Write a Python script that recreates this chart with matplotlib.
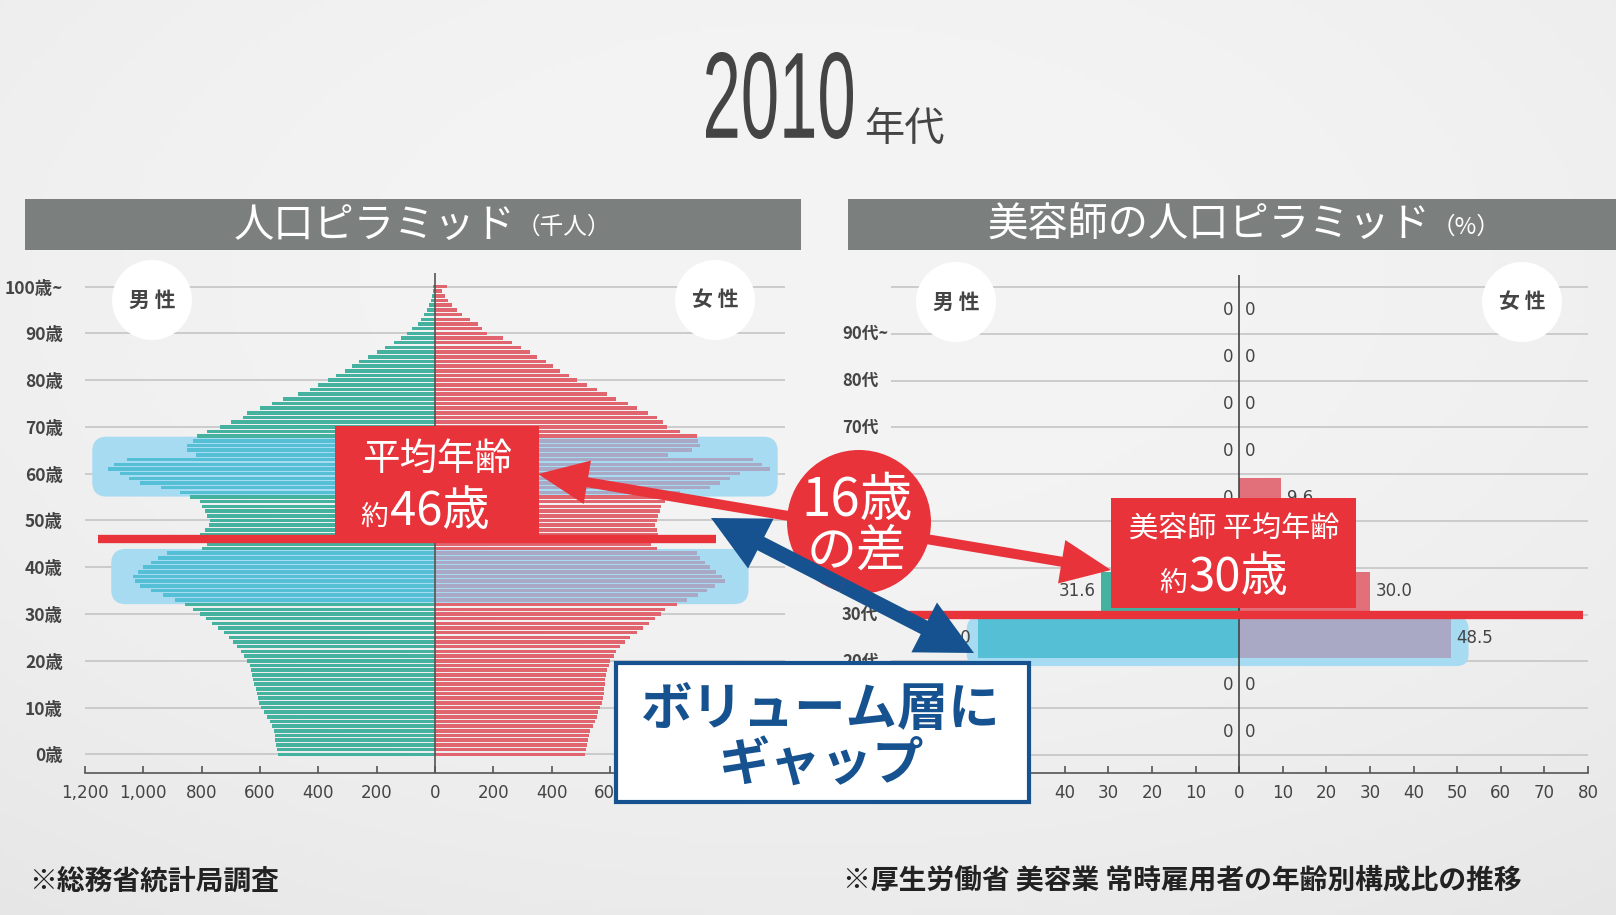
import numpy as np
import matplotlib.pyplot as plt
from matplotlib.patches import Rectangle, Circle, FancyBboxPatch, FancyArrow, PathPatch
from matplotlib.textpath import TextPath
from matplotlib.font_manager import FontProperties
from matplotlib.transforms import Affine2D

plt.rcParams['font.family'] = ['Noto Sans CJK JP', 'DejaVu Sans']

# ---------------------------------------------------------------
# data
# ---------------------------------------------------------------
# population pyramid 2010, ages 0..100+ (thousand people)
ages = np.arange(0, 101)
male_pop = [
    537, 541, 545, 549, 549, 552, 560, 566, 575, 585,
    598, 603, 608, 611, 614, 620, 623, 626, 630, 634,
    645, 655, 665, 680, 691, 705, 725, 745, 765, 785,
    806, 830, 857, 890, 931, 975, 1011, 1030, 1034, 1020,
    1000, 975, 950, 920, 800, 780, 790, 806, 789, 775,
    771, 783, 790, 800, 806, 840, 874, 940, 1011, 1050,
    1080, 1120, 1100, 1057, 820, 850, 851, 830, 817, 780,
    737, 700, 660, 645, 600, 560, 520, 470, 430, 400,
    366, 340, 310, 285, 260, 230, 200, 170, 140, 115,
    95, 78, 60, 48, 38, 28, 20, 15, 10, 7, 6,
]
female_pop = [
    514, 517, 520, 524, 528, 531, 540, 548, 554, 560,
    566, 571, 575, 578, 580, 583, 583, 585, 590, 595,
    600, 612, 622, 634, 650, 670, 691, 712, 735, 755,
    775, 790, 830, 863, 900, 931, 960, 994, 985, 965,
    943, 925, 910, 897, 760, 740, 750, 765, 760, 755,
    760, 765, 770, 775, 790, 800, 840, 943, 977, 1010,
    1046, 1148, 1120, 1091, 800, 880, 910, 900, 897, 840,
    794, 780, 760, 730, 691, 660, 620, 589, 555, 520,
    486, 460, 430, 406, 380, 350, 326, 295, 265, 234,
    177, 160, 148, 120, 91, 75, 58, 45, 33, 25, 40,
]
pop_ticks = np.arange(0, 101, 10)
pop_tick_labels = [f"{a}歳" for a in pop_ticks[:-1]] + ["100歳~"]
pop_highlights = [(33, 43), (56, 67)]      # volume layers (ages)
pop_mean_age = 46

# beautician pyramid (%), by decade
beauty_decades = [0, 10, 20, 30, 40, 50, 60, 70, 80, 90]
beauty_male = [0, 0, 60.0, 31.6, 8.4, 0, 0, 0, 0, 0]
beauty_female = [0, 0, 48.5, 30.0, 11.9, 9.6, 0, 0, 0, 0]
# decade labels that are not hidden behind the callouts
beauty_label_decades = [20, 30, 70, 80, 90]
beauty_labels = ["20代", "30代", "70代", "80代", "90代~"]
beauty_highlight = 20
beauty_mean_age = 30

# ---------------------------------------------------------------
# colours
# ---------------------------------------------------------------
MALE = '#45b29f'
MALE_HL = '#55bfd6'
FEMALE = '#e0656f'
FEMALE_HL = '#a9a8c5'
HL_BOX = '#a7dbf2'
RED = '#e8333b'
BLUE = '#16528f'
GRID = '#c5c5c5'
INK = '#444444'

W, H = 1616, 915


def frac(x0, y0, x1, y1):
    return [x0 / W, 1 - y1 / H, (x1 - x0) / W, (y1 - y0) / H]


fig = plt.figure(figsize=(W / 100, H / 100), dpi=100)

# background
bg = fig.add_axes([0, 0, 1, 1])
yy, xx = np.mgrid[0:1:200j, 0:1:300j]
shade = 0.955 - 0.075 * ((xx - 0.5) ** 2 + (yy - 0.3) ** 2)
bg.imshow(shade, cmap='gray', vmin=0, vmax=1, extent=(0, 1, 0, 1), aspect='auto')
bg.set_xlim(0, 1)
bg.set_ylim(0, 1)
bg.axis('off')

# ---------------------------------------------------------------
# left: population pyramid
# ---------------------------------------------------------------
axL = fig.add_axes(frac(85, 273, 785, 773))
axL.patch.set_alpha(0)
axL.set_xlim(-1200, 1200)
axL.set_ylim(-4.0, 102.9)
axL.hlines(pop_ticks, -1200, 1200, color=GRID, lw=1.2, zorder=0)

hl_box_x = {(33, 43): (-1110, 1075), (56, 67): (-1175, 1175)}
for a0, a1 in pop_highlights:
    x0, x1 = hl_box_x[(a0, a1)]
    axL.add_patch(FancyBboxPatch((x0, a0 - 0.9), x1 - x0, a1 - a0 + 1.8,
                                 boxstyle='round,pad=0,rounding_size=50',
                                 mutation_aspect=0.0628, fc=HL_BOX, ec='none', zorder=1))


def in_hl(a):
    return any(a0 <= a <= a1 for a0, a1 in pop_highlights)


mcols = [MALE_HL if in_hl(a) else MALE for a in ages]
fcols = [FEMALE_HL if in_hl(a) else FEMALE for a in ages]
axL.barh(ages, -np.array(male_pop), height=0.76, color=mcols, zorder=2)
axL.barh(ages, female_pop, height=0.76, color=fcols, zorder=2)
axL.plot([0, 0], [-4, 102.8], color='#555', lw=1.2, zorder=3)
axL.plot([-1155, 965], [pop_mean_age, pop_mean_age], color=RED, lw=6,
         solid_capstyle='butt', zorder=4)

for s in ['top', 'left', 'right']:
    axL.spines[s].set_visible(False)
axL.spines['bottom'].set_color('#555')
axL.spines['bottom'].set_linewidth(1.2)
xt = np.arange(-1200, 1201, 200)
axL.set_xticks(xt)
axL.set_xticklabels([f"{abs(v):,}" for v in xt], family='DejaVu Sans')
axL.tick_params(axis='x', direction='in', length=5, width=1.2, color='#555',
                labelsize=12, labelcolor=INK, pad=8)
axL.set_yticks(pop_ticks)
axL.set_yticklabels(pop_tick_labels, fontweight='bold')
axL.tick_params(axis='y', length=0, pad=16, labelsize=12.5, labelcolor=INK)

# ---------------------------------------------------------------
# right: beautician pyramid
# ---------------------------------------------------------------
axR = fig.add_axes(frac(890.5, 275, 1588, 773))
axR.patch.set_alpha(0)
axR.set_xlim(-80, 80)
axR.set_ylim(-0.385, 10.256)
axR.hlines(np.arange(0, 11), -80, 80, color=GRID, lw=1.2, zorder=0)

rows = np.array(beauty_decades) / 10 + 0.5
hk = beauty_highlight / 10
axR.add_patch(FancyBboxPatch((-62.5, hk - 0.1), 115.1, 1.05,
                             boxstyle='round,pad=0,rounding_size=2.75',
                             mutation_aspect=0.0932, fc=HL_BOX, ec='none', zorder=1))
mc = [MALE_HL if d == beauty_highlight else MALE for d in beauty_decades]
fc = [FEMALE_HL if d == beauty_highlight else '#e2707b' for d in beauty_decades]
axR.barh(rows, -np.array(beauty_male), height=0.84, color=mc, zorder=2)
axR.barh(rows, beauty_female, height=0.84, color=fc, zorder=2)
for k, m, f in zip(rows, beauty_male, beauty_female):
    axR.text(-m - 1.3, k, "0" if m == 0 else f"{m:.1f}", ha='right', va='center',
             fontsize=12, color=INK, family='DejaVu Sans', zorder=3)
    axR.text(f + 1.3, k, "0" if f == 0 else f"{f:.1f}", ha='left', va='center',
             fontsize=12, color=INK, family='DejaVu Sans', zorder=3)
axR.plot([0, 0], [-0.385, 10.25], color='#444', lw=1.2, zorder=3)
axR.plot([-78.5, 78.9], [beauty_mean_age / 10, beauty_mean_age / 10], color=RED, lw=6,
         solid_capstyle='butt', zorder=4)

ytr = axR.get_yaxis_transform()
for d, lab in zip(beauty_label_decades, beauty_labels):
    axR.text(-0.0695, d / 10, lab, transform=ytr, ha='left', va='center',
             fontsize=12, fontweight='bold', color=INK)

for s in ['top', 'left', 'right']:
    axR.spines[s].set_visible(False)
axR.spines['bottom'].set_color('#555')
axR.spines['bottom'].set_linewidth(1.2)
xt2 = np.arange(-80, 81, 10)
axR.set_xticks(xt2)
axR.set_xticklabels([str(abs(v)) for v in xt2], family='DejaVu Sans')
axR.tick_params(axis='x', direction='in', length=5, width=1.2, color='#555',
                labelsize=12, labelcolor=INK, pad=8)
axR.set_yticks([])

# ---------------------------------------------------------------
# overlay: titles, headers, callouts
# ---------------------------------------------------------------
ov = fig.add_axes([0, 0, 1, 1])
ov.set_xlim(0, W)
ov.set_ylim(H, 0)
ov.axis('off')

# big condensed "2010"
fp = FontProperties(family='Liberation Sans')
tp = TextPath((0, 0), "2010", size=100, prop=fp)
bb = tp.get_extents()
tr = Affine2D().translate(-bb.x0, -bb.y0).scale(147 / bb.width, -87 / bb.height).translate(706, 139)
ov.add_patch(PathPatch(tr.transform_path(tp), fc=INK, ec='none'))
ov.text(864, 141, "年代", fontsize=29, color=INK, ha='left', va='baseline')

# header bars
ov.add_patch(Rectangle((25, 199), 776, 51, fc='#7b807e', ec='none'))
ov.add_patch(Rectangle((848, 199), 768, 51, fc='#7b807e', ec='none'))
ov.text(515, 225, "人口ピラミッド", fontsize=29, color='white', ha='right', va='center')
ov.text(517, 227, "（千人）", fontsize=17, color='white', ha='left', va='center')
ov.text(1430, 225, "美容師の人口ピラミッド", fontsize=29, color='white', ha='right', va='center')
ov.text(1432, 227, "（%）", fontsize=17, color='white', ha='left', va='center')

# gender badges
for (cx, cy), lab in zip([(152, 300), (715, 300), (956, 302), (1522, 302)],
                         ["男 性", "女 性", "男 性", "女 性"]):
    ov.add_patch(Circle((cx, cy), 40, fc='white', ec='none'))
    ov.text(cx, cy, lab, fontsize=15, fontweight='bold', color=INK, ha='center', va='center')


def double_arrow(p0, p1, width, head_w, head_len, color):
    mx, my = (p0[0] + p1[0]) / 2, (p0[1] + p1[1]) / 2
    for px, py in (p0, p1):
        ov.add_patch(FancyArrow(mx, my, px - mx, py - my, width=width, head_width=head_w,
                                head_length=head_len, length_includes_head=True,
                                fc=color, ec='none'))


# red arrow between the two mean-age boxes
double_arrow((538, 474), (1111, 570), 10, 44, 50, RED)

# mean-age boxes
ov.add_patch(Rectangle((335, 426), 204, 111, fc=RED, ec='none'))
ov.text(437, 470, "平均年齢", fontsize=27, color='white', ha='center', va='baseline')
ov.text(388, 525, "約", fontsize=20, color='white', ha='right', va='baseline')
ov.text(390, 525, "46歳", fontsize=34, color='white', ha='left', va='baseline')

ov.add_patch(Rectangle((1111, 498), 245, 110, fc=RED, ec='none'))
ov.text(1234, 538, "美容師 平均年齢", fontsize=21, color='white', ha='center', va='baseline')
ov.text(1187, 591, "約", fontsize=20, color='white', ha='right', va='baseline')
ov.text(1189, 591, "30歳", fontsize=34, color='white', ha='left', va='baseline')

# gap circle
ov.add_patch(Circle((859, 522), 72, fc=RED, ec='none'))
ov.text(857, 516, "16歳", fontsize=38, color='white', ha='center', va='baseline')
ov.text(857, 566, "の差", fontsize=36, color='white', ha='center', va='baseline')

# blue arrow between volume layers
double_arrow((711, 518), (974, 653), 15, 56, 56, BLUE)

# blue callout box
ov.add_patch(Rectangle((616, 663), 413, 139, fc='white', ec=BLUE, lw=3))
ov.text(821, 709, "ボリューム層に", fontsize=37, fontweight='bold', color=BLUE,
        ha='center', va='center')
ov.text(821, 765, "ギャップ", fontsize=37, fontweight='bold', color=BLUE,
        ha='center', va='center')

# sources
ov.text(29, 882, "※総務省統計局調査", fontsize=20, fontweight='bold', color='#222',
        ha='left', va='center')
ov.text(843, 880, "※厚生労働省 美容業 常時雇用者の年齢別構成比の推移", fontsize=20,
        fontweight='bold', color='#222', ha='left', va='center')

fig.savefig('out.png', dpi=100)
